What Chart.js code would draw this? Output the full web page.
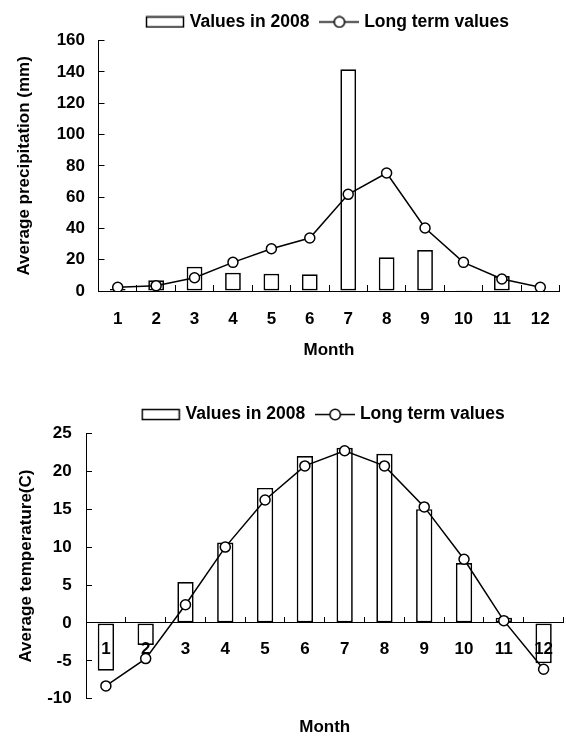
<!DOCTYPE html>
<html>
<head>
<meta charset="utf-8">
<script src="https://cdn.jsdelivr.net/npm/chart.js@4.4.0/dist/chart.umd.min.js"></script>
<style>
html,body{margin:0;padding:0;background:#fff;overflow:hidden;}
canvas{display:block;}
</style>
</head>
<body>
<canvas id="precipChart" width="566" height="370"></canvas>
<canvas id="tempChart" width="570" height="368"></canvas>
<script>
const months = ['1','2','3','4','5','6','7','8','9','10','11','12'];

const precip2008 = [1.3, 6.8, 15.5, 11.7, 11, 10.7, 141.7, 21.5, 26.2, 0.4, 9.6, 0];
const precipLongTerm = [2.4, 3.4, 8.5, 18.3, 27, 33.9, 61.8, 75.4, 40.3, 18.3, 7.7, 2.4];
const precipTicks = [0, 20, 40, 60, 80, 100, 120, 140, 160];

const temp2008 = [-6.3, -2.9, 5.4, 10.6, 17.8, 22.0, 23.1, 22.3, 15.0, 7.9, 0.7, -5.3];
const tempLongTerm = [-8.3, -4.7, 2.4, 10.0, 16.2, 20.7, 22.7, 20.7, 15.3, 8.4, 0.3, -6.1];
const tempTicks = [-10, -5, 0, 5, 10, 15, 20, 25];

Chart.defaults.font.family = "'Liberation Sans', Arial, sans-serif";
Chart.defaults.font.size = 17;
Chart.defaults.font.weight = 'bold';
Chart.defaults.color = '#000';

// legend symbols: open box for bars, line with circle for the long term series
function legendIcon(kind){
  const c = document.createElement('canvas');
  c.width = 40; c.height = 13;
  const g = c.getContext('2d');
  g.strokeStyle = '#000'; g.fillStyle = '#fff'; g.lineWidth = 1.5;
  if(kind === 'bar'){
    g.fillRect(1.5, 1.5, 37, 10);
    g.strokeRect(1.5, 1.5, 37, 10);
  } else {
    g.beginPath(); g.moveTo(0, 6.5); g.lineTo(40, 6.5); g.stroke();
    g.beginPath(); g.arc(20, 6.5, 5.2, 0, Math.PI*2); g.fill(); g.stroke();
  }
  return c;
}
const barIcon = legendIcon('bar');
const lineIcon = legendIcon('line');

function iconLabels(chart){
  return Chart.defaults.plugins.legend.labels.generateLabels(chart).map(item => {
    item.pointStyle = chart.data.datasets[item.datasetIndex].type === 'line' ? lineIcon : barIcon;
    item.rotation = 0;
    return item;
  });
}

function datasets(bars, line){
  return [
    {type:'bar', label:'Values in 2008', data:bars, order:1,
     backgroundColor:'#fff', borderColor:'#000', borderWidth:1.7, borderSkipped:false,
     categoryPercentage:1, barPercentage:0.41},
    {type:'line', label:'Long term values', data:line, order:0,
     borderColor:'#000', borderWidth:1.5, tension:0,
     pointRadius:5, pointBackgroundColor:'#fff', pointBorderColor:'#000', pointBorderWidth:1.5}
  ];
}

const legendOpts = {
  fullSize:false,
  labels:{usePointStyle:true, pointStyleWidth:32, padding:14, font:{size:17.5},
    sort:(a,b)=>a.datasetIndex-b.datasetIndex, generateLabels:iconLabels}
};
const gridOpts = {drawOnChartArea:false, tickLength:-6, color:'#000', lineWidth:1};
const borderOpts = {color:'#000', width:1};

const precipChart = new Chart(document.getElementById('precipChart'), {
  type:'bar',
  data:{labels:months, datasets:datasets(precip2008, precipLongTerm)},
  options:{
    responsive:false, animation:false, events:[],
    layout:{padding:{top:-3.95, right:1.6, left:0, bottom:0}},
    plugins:{legend:legendOpts, tooltip:{enabled:false}},
    scales:{
      x:{
        grid:gridOpts, border:borderOpts,
        ticks:{padding:24.3},
        title:{display:true, text:'Month', padding:{top:0, bottom:9.8}},
        afterFit:s=>{ s.height = 79; s.paddingLeft = 0; s.paddingRight = 0; }
      },
      y:{
        min:precipTicks[0], max:precipTicks[precipTicks.length-1],
        ticks:{stepSize:precipTicks[1]-precipTicks[0], padding:19.5},
        grid:gridOpts, border:borderOpts,
        title:{display:true, text:'Average precipitation (mm)', padding:{top:13.8, bottom:0}},
        afterFit:s=>{ s.width = 98.5; s.paddingTop = 40.7; s.paddingBottom = 0; }
      }
    }
  }
});

const tempChart = new Chart(document.getElementById('tempChart'), {
  type:'bar',
  data:{labels:months, datasets:datasets(temp2008, tempLongTerm)},
  options:{
    responsive:false, animation:false, events:[],
    layout:{padding:{top:19.05, right:1.6, left:0, bottom:0}},
    plugins:{
      legend:legendOpts,
      title:{display:true, text:'Month', position:'bottom', fullSize:false, padding:{top:18.8, bottom:0}},
      tooltip:{enabled:false}
    },
    scales:{
      x:{
        position:{y:0},
        grid:gridOpts, border:borderOpts,
        ticks:{padding:22, z:1},
        afterFit:s=>{ s.height = 0; s.paddingLeft = 0; s.paddingRight = 0; }
      },
      y:{
        min:tempTicks[0], max:tempTicks[tempTicks.length-1],
        ticks:{stepSize:tempTicks[1]-tempTicks[0], padding:20.3},
        grid:gridOpts, border:borderOpts,
        title:{display:true, text:'Average temperature(C)', padding:{top:16.5, bottom:0}},
        afterFit:s=>{ s.width = 86; s.paddingTop = 63.3; s.paddingBottom = 0; }
      }
    }
  }
});
</script>
</body>
</html>
